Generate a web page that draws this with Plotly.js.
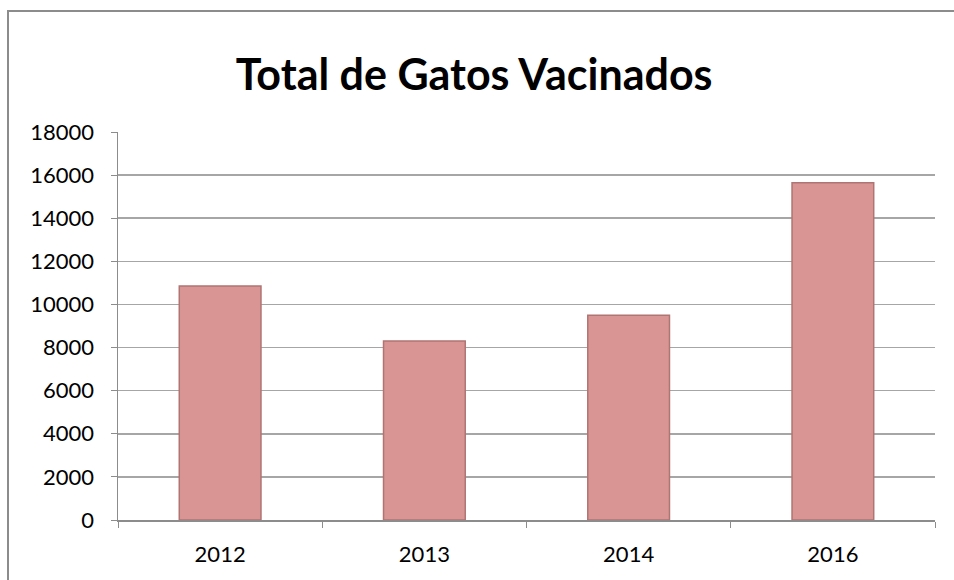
<!DOCTYPE html>
<html>
<head>
<meta charset="utf-8">
<script src="https://cdn.plot.ly/plotly-3.0.1.min.js"></script>
<style>
  html, body { margin:0; padding:0; background:#fff; width:954px; height:580px; overflow:hidden; }
  #frame { position:absolute; left:7px; top:10px; width:1000px; height:640px; border:2px solid #8c8c8c; box-sizing:border-box; pointer-events:none; }
  #chart { position:absolute; left:0; top:0; width:954px; height:580px; }
</style>
</head>
<body>
<div id="frame"></div>
<div id="chart"></div>
<script>
const years = ["2012", "2013", "2014", "2016"];
const vacinados = [10850, 8300, 9500, 15650];
const yTicks = [0, 2000, 4000, 6000, 8000, 10000, 12000, 14000, 16000, 18000];

const trace = {
  type: "bar",
  x: years,
  y: vacinados,
  width: 0.4,
  marker: {
    color: "#d99594",
    line: { color: "#b07473", width: 1.5 }
  },
  hoverinfo: "x+y"
};

const layout = {
  width: 954, height: 580,
  margin: { l: 118, r: 19, t: 132, b: 60 },
  paper_bgcolor: "rgba(0,0,0,0)",
  plot_bgcolor: "rgba(0,0,0,0)",
  font: { family: "Lato, 'Open Sans', sans-serif", color: "#000" },
  title: {
    text: "<b>Total de Gatos Vacinados</b>",
    font: { family: "Lato, 'Open Sans', sans-serif", size: 43, color: "#000" },
    x: 0.497, xanchor: "center", y: 0.87, yanchor: "middle"
  },
  xaxis: {
    type: "category",
    tickson: "boundaries",
    ticks: "outside", ticklen: 6, tickcolor: "#8c8c8c",
    showline: true, linecolor: "#8c8c8c", linewidth: 1.5,
    showgrid: false,
    tickfont: { size: 22 },
    ticklabelstandoff: 14
  },
  yaxis: {
    range: [0, 18000],
    tickvals: yTicks,
    ticktext: yTicks.map(String),
    ticks: "outside", ticklen: 6, tickcolor: "#8c8c8c",
    showline: true, linecolor: "#8c8c8c", linewidth: 1.5,
    showgrid: true, gridcolor: "#a6a6a6", gridwidth: 1.5,
    zeroline: false,
    tickfont: { size: 22 },
    ticklabelstandoff: 12
  },
  showlegend: false,
  bargap: 0.6
};

Plotly.newPlot("chart", [trace], layout, { displayModeBar: false, staticPlot: true });
</script>
</body>
</html>
